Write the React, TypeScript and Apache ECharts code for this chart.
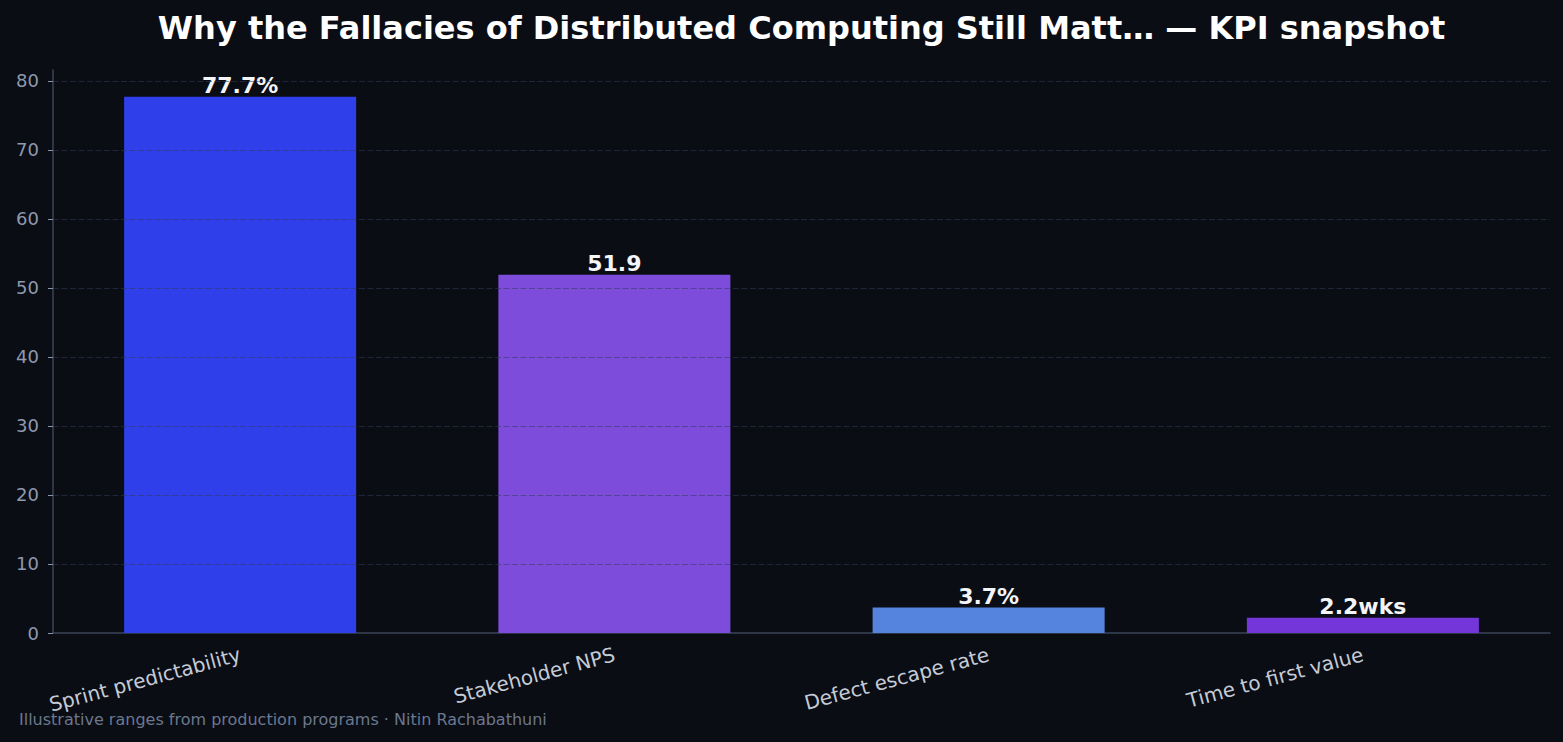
import React, { useEffect, useRef } from "react";
import * as echarts from "echarts";

const categories = ["Sprint predictability", "Stakeholder NPS", "Defect escape rate", "Time to first value"];
const values = [77.7, 51.9, 3.7, 2.2];
const valueLabels = ["77.7%", "51.9", "3.7%", "2.2wks"];
const barColors = ["#2f3fea", "#7d4cdb", "#5484de", "#7435d9"];
const yTicks = [0, 10, 20, 30, 40, 50, 60, 70, 80];

const TITLE = "Why the Fallacies of Distributed Computing Still Matt\u2026 \u2014 KPI snapshot";
const FOOTER = "Illustrative ranges from production programs \u00b7 Nitin Rachabathuni";
const FONT = "'DejaVu Sans', sans-serif";

const GRID_LEFT = 53;
const GRID_RIGHT = 13;
const WIDTH = 1563;
const HEIGHT = 742;

export default function App() {
  const ref = useRef<HTMLDivElement>(null);

  useEffect(() => {
    if (!ref.current) return;
    const chart = echarts.init(ref.current, undefined, { renderer: "svg" });
    const yMax = Math.max(...values) * 1.05;
    // title centred over the plotting area rather than the whole canvas
    const titleX = (GRID_LEFT + (WIDTH - GRID_RIGHT)) / 2;
    chart.setOption({
      animation: false,
      backgroundColor: "#0a0d14",
      graphic: [
        {
          type: "text",
          x: titleX,
          y: 12,
          style: {
            text: TITLE,
            fill: "#ffffff",
            font: `bold 32px ${FONT}`,
            textAlign: "center",
            textVerticalAlign: "top",
          },
        },
        {
          type: "text",
          left: 19,
          top: 711,
          style: { text: FOOTER, fill: "#6b788e", font: `16px ${FONT}` },
        },
      ],
      grid: { left: GRID_LEFT, right: GRID_RIGHT, top: 70, bottom: 109 },
      xAxis: {
        type: "category",
        data: categories,
        axisLine: { lineStyle: { color: "#3a4457", width: 1.5 } },
        axisTick: { alignWithLabel: true, length: 5, lineStyle: { color: "#000000" } },
        axisLabel: {
          rotate: 15,
          margin: 21,
          color: "#c5cbd6",
          fontFamily: FONT,
          fontSize: 20,
          interval: 0,
        },
      },
      yAxis: {
        type: "value",
        min: 0,
        max: yMax,
        interval: 10,
        axisLine: { show: true, lineStyle: { color: "#3a4457", width: 1.5 } },
        axisTick: { show: true, length: 5, lineStyle: { color: "#8a95a8" } },
        axisLabel: {
          color: "#8e99ad",
          fontFamily: FONT,
          fontSize: 18,
          margin: 14,
          formatter: (v: number) => (yTicks.includes(v) ? String(v) : ""),
          showMaxLabel: false,
        },
        splitLine: { show: false },
      },
      series: [
        {
          type: "bar",
          barWidth: "62%",
          data: values.map((v, i) => ({ value: v, itemStyle: { color: barColors[i] } })),
          label: {
            show: true,
            position: "top",
            distance: 0,
            color: "#f3f5f8",
            fontFamily: FONT,
            fontWeight: "bold",
            fontSize: 22,
            formatter: (p: any) => valueLabels[p.dataIndex],
          },
          // dashed grid lines drawn above the bars
          markLine: {
            silent: true,
            symbol: "none",
            label: { show: false },
            lineStyle: { color: "rgba(50,60,88,0.55)", type: [6, 2.5], width: 1.2 },
            data: yTicks.filter((t) => t > 0).map((t) => ({ yAxis: t })),
          },
        },
      ],
    });
    return () => chart.dispose();
  }, []);

  return (
    <div
      ref={ref}
      style={{ position: "absolute", left: 0, top: 0, width: WIDTH, height: HEIGHT }}
    />
  );
}
